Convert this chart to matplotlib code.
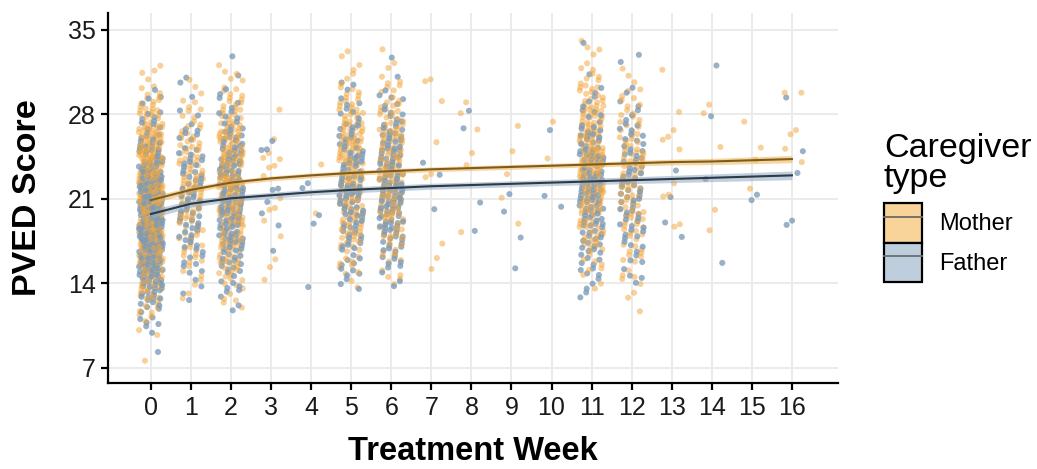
import numpy as np
import matplotlib

matplotlib.use("Agg")
import matplotlib.pyplot as plt
from matplotlib.lines import Line2D
from matplotlib.patches import Patch

# fitted trajectories read at each treatment week
WEEKS = list(range(17))
MOTHER_FIT = [20.9, 21.75, 22.35, 22.7, 22.95, 23.15, 23.3, 23.45, 23.55,
              23.65, 23.75, 23.85, 23.95, 24.05, 24.1, 24.2, 24.3]
FATHER_FIT = [19.75, 20.6, 21.05, 21.3, 21.55, 21.75, 21.9, 22.05, 22.15,
              22.25, 22.35, 22.45, 22.55, 22.65, 22.75, 22.85, 22.95]
MOTHER_BAND = [0.3, 0.25, 0.2, 0.2, 0.2, 0.2, 0.2, 0.2, 0.2,
               0.2, 0.2, 0.2, 0.22, 0.24, 0.26, 0.28, 0.3]
FATHER_BAND = [0.35, 0.3, 0.25, 0.25, 0.25, 0.25, 0.25, 0.25, 0.25,
               0.25, 0.25, 0.26, 0.28, 0.3, 0.32, 0.34, 0.36]

# dense weeks: number of observations per integer score
SCORE_BINS = list(range(8, 36))
DENSE_WEEKS = [0, 1, 2, 5, 6, 11, 12]
MOTHER_COUNTS = {
    0: {8: 1, 10: 2, 11: 3, 12: 5, 13: 8, 14: 12, 15: 15, 16: 18, 17: 20, 18: 22, 19: 24,
        20: 26, 21: 26, 22: 26, 23: 25, 24: 24, 25: 22, 26: 18, 27: 15, 28: 11, 29: 7,
        30: 4, 31: 2, 32: 2},
    1: {13: 2, 14: 2, 15: 3, 16: 5, 17: 6, 18: 7, 19: 8, 20: 9, 21: 10, 22: 10, 23: 10,
        24: 9, 25: 8, 26: 7, 27: 5, 28: 4, 29: 3, 30: 2, 31: 1},
    2: {12: 2, 13: 3, 14: 5, 15: 7, 16: 9, 17: 11, 18: 13, 19: 15, 20: 17, 21: 18, 22: 18,
        23: 18, 24: 17, 25: 15, 26: 13, 27: 11, 28: 9, 29: 7, 30: 5, 31: 3, 32: 2},
    5: {14: 2, 15: 3, 16: 5, 17: 7, 18: 9, 19: 11, 20: 13, 21: 14, 22: 15, 23: 15, 24: 15,
        25: 14, 26: 13, 27: 11, 28: 9, 29: 7, 30: 5, 31: 3, 32: 2, 33: 2},
    6: {14: 2, 15: 3, 16: 4, 17: 6, 18: 8, 19: 10, 20: 12, 21: 13, 22: 14, 23: 14, 24: 14,
        25: 13, 26: 12, 27: 10, 28: 8, 29: 6, 30: 4, 31: 3, 32: 2, 33: 1},
    11: {14: 2, 15: 3, 16: 4, 17: 6, 18: 8, 19: 10, 20: 12, 21: 14, 22: 15, 23: 16, 24: 17,
         25: 17, 26: 16, 27: 14, 28: 12, 29: 10, 30: 8, 31: 5, 32: 3, 33: 2, 34: 2},
    12: {12: 1, 13: 2, 14: 2, 15: 3, 16: 4, 17: 5, 18: 6, 19: 7, 20: 8, 21: 9, 22: 9,
         23: 9, 24: 9, 25: 8, 26: 7, 27: 6, 28: 5, 29: 4, 30: 3, 31: 2, 32: 1},
}
FATHER_COUNTS = {
    0: {8: 1, 10: 2, 11: 4, 12: 6, 13: 10, 14: 14, 15: 18, 16: 22, 17: 24, 18: 25, 19: 26,
        20: 25, 21: 23, 22: 20, 23: 17, 24: 14, 25: 11, 26: 8, 27: 5, 28: 4, 29: 3, 30: 1},
    1: {13: 2, 14: 2, 15: 3, 16: 4, 17: 5, 18: 6, 19: 7, 20: 7, 21: 7, 22: 7, 23: 7,
        24: 6, 25: 5, 26: 4, 27: 3, 28: 2, 29: 1, 31: 2},
    2: {12: 2, 13: 3, 14: 4, 15: 6, 16: 8, 17: 10, 18: 11, 19: 12, 20: 13, 21: 13, 22: 13,
        23: 12, 24: 11, 25: 10, 26: 8, 27: 6, 28: 4, 29: 3, 30: 2, 31: 1, 33: 1},
    5: {14: 3, 15: 4, 16: 5, 17: 6, 18: 7, 19: 8, 20: 9, 21: 10, 22: 10, 23: 10, 24: 9,
        25: 8, 26: 7, 27: 6, 28: 4, 29: 3, 30: 2, 31: 1},
    6: {14: 2, 15: 3, 16: 5, 17: 7, 18: 9, 19: 11, 20: 12, 21: 13, 22: 13, 23: 12, 24: 11,
        25: 10, 26: 9, 27: 7, 28: 5, 29: 4, 30: 2, 31: 1, 33: 1},
    11: {13: 2, 14: 3, 15: 4, 16: 5, 17: 7, 18: 8, 19: 10, 20: 11, 21: 12, 22: 12, 23: 12,
         24: 11, 25: 10, 26: 8, 27: 6, 28: 4, 29: 3, 30: 2, 31: 1, 34: 1},
    12: {14: 2, 15: 2, 16: 3, 17: 4, 18: 5, 19: 6, 20: 6, 21: 7, 22: 7, 23: 7, 24: 6,
         25: 6, 26: 5, 27: 4, 28: 3, 29: 2, 30: 2, 32: 1, 33: 1},
}

# sparse weeks: individual scores
MOTHER_SPARSE = {
    3: [28.4, 25.95, 24.8, 24.4, 24.3, 23.75, 23.6, 22.9, 21.05, 20.25, 20.1, 19.2,
        17.9, 16.0, 15.35, 14.3],
    4: [23.85, 19.8],
    7: [30.9, 30.75, 29.1, 25.7, 23.05, 22.8, 17.3, 16.1, 15.2],
    8: [29.0, 28.1, 26.75, 24.8, 23.8, 18.25],
    9: [27.05, 24.95, 23.05, 21.1, 18.95],
    10: [27.4, 24.35],
    13: [31.7, 28.2, 26.7, 26.15, 25.9, 25.1, 22.3, 21.35, 21.2, 18.9, 18.7],
    14: [28.8, 28.1, 25.3, 20.1, 18.4],
    15: [27.4, 25.25, 24.25, 21.85],
    16: [29.8, 29.8, 26.7, 26.35, 25.15, 24.05],
}
FATHER_SPARSE = {
    3: [25.8, 25.1, 25.05, 21.85, 21.75, 20.75, 19.8, 18.8, 16.7],
    4: [22.3, 21.9, 19.65, 18.95, 13.7],
    7: [24.0, 23.0, 20.15],
    8: [28.3, 26.85, 20.7, 18.35],
    9: [21.4, 19.95, 17.8, 15.25],
    10: [26.7, 21.25, 20.35],
    13: [23.35, 21.15, 19.05, 17.85],
    14: [32.05, 27.85, 22.65, 15.7],
    15: [21.35, 20.9],
    16: [29.4, 24.95, 23.15, 19.2, 18.85],
}

MOTHER_POINT = "#F3A63C"
FATHER_POINT = "#7C9BB8"
MOTHER_LINE = "#7E5C1C"
FATHER_LINE = "#2E3A44"
MOTHER_FILL = "#F2B352"
FATHER_FILL = "#8FAAC6"

A1, A2 = 0.7548776662, 0.5698402910


def jittered(counts, sparse, phase):
    xs, ys = [], []
    k = phase
    for week in DENSE_WEEKS:
        for score in SCORE_BINS:
            for _ in range(counts[week].get(score, 0)):
                k += 1
                xs.append(week + ((0.5 + A1 * k) % 1 - 0.5) * 0.6)
                ys.append(score + ((0.5 + A2 * k) % 1 - 0.5) * 0.95)
    for week, values in sparse.items():
        for value in values:
            k += 1
            xs.append(week + ((0.5 + A1 * k) % 1 - 0.5) * 0.55)
            ys.append(value)
    return np.array(xs), np.array(ys)


fig = plt.figure(figsize=(10.37, 4.69), dpi=100)
ax = fig.add_axes([108 / 1037, 1 - 383 / 469, (838 - 108) / 1037, (383 - 13) / 469])

mx, my = jittered(MOTHER_COUNTS, MOTHER_SPARSE, 0)
fx, fy = jittered(FATHER_COUNTS, FATHER_SPARSE, 777)
all_x = np.concatenate([mx, fx])
all_y = np.concatenate([my, fy])
rgba = np.vstack([
    np.tile(matplotlib.colors.to_rgba(MOTHER_POINT, 0.52), (len(mx), 1)),
    np.tile(matplotlib.colors.to_rgba(FATHER_POINT, 0.78), (len(fx), 1)),
])
# interleave draw order so neither group sits entirely on top
shuffle = np.argsort((np.arange(len(all_x)) * 0.618034) % 1)
ax.scatter(all_x[shuffle], all_y[shuffle], s=19, c=rgba[shuffle], linewidths=0, zorder=2)

weeks = np.array(WEEKS)
for fit, band, fill, line in [
    (MOTHER_FIT, MOTHER_BAND, MOTHER_FILL, MOTHER_LINE),
    (FATHER_FIT, FATHER_BAND, FATHER_FILL, FATHER_LINE),
]:
    fit = np.array(fit)
    band = np.array(band)
    ax.fill_between(weeks, fit - band, fit + band, color=fill, alpha=0.55,
                    linewidth=0, zorder=3)
    ax.plot(weeks, fit, color=line, linewidth=1.5, zorder=4)

ax.set_xlim(-1.07, 17.15)
ax.set_ylim(5.75, 36.4)
ax.set_xticks(WEEKS)
ax.set_yticks([7, 14, 21, 28, 35])
ax.grid(True, color="#EBEBEB", linewidth=1.4, zorder=0)
ax.set_axisbelow(True)
for side in ["top", "right"]:
    ax.spines[side].set_visible(False)
for side in ["left", "bottom"]:
    ax.spines[side].set_linewidth(1.6)
ax.tick_params(axis="both", length=5, width=1.6, color="black", labelsize=18,
               labelcolor="#1A1A1A", pad=4)
for label in ax.get_xticklabels() + ax.get_yticklabels():
    label.set_family(["Liberation Sans", "DejaVu Sans"])

ax.set_xlabel("Treatment Week", labelpad=12, fontweight="bold", fontsize=23.5,
              family=["Liberation Sans", "DejaVu Sans"])
ax.set_ylabel("PVED Score", labelpad=18, fontweight="bold", fontsize=24.5,
              family=["Liberation Sans", "DejaVu Sans"])

fig.text(884 / 1037, 1 - 187 / 469, "Caregiver\ntype", fontsize=24.5,
         family=["Liberation Sans", "DejaVu Sans"], ha="left", va="baseline",
         linespacing=0.95)

handles = [
    (Patch(facecolor="#F8D39A", edgecolor="black", linewidth=1.6),
     Line2D([], [], color="#6F6A5F", linewidth=1.3)),
    (Patch(facecolor="#BFCEDC", edgecolor="black", linewidth=1.6),
     Line2D([], [], color="#6A6E72", linewidth=1.3)),
]
fig.legend(handles, ["Mother", "Father"], loc="upper left",
           bbox_to_anchor=(884 / 1037, 1 - 203 / 469), frameon=False,
           prop={"family": "Liberation Sans", "size": 17},
           handlelength=1.6, handleheight=2.2, labelspacing=0.0,
           handletextpad=0.75, borderaxespad=0, borderpad=0)

fig.savefig("out.png", dpi=100)
